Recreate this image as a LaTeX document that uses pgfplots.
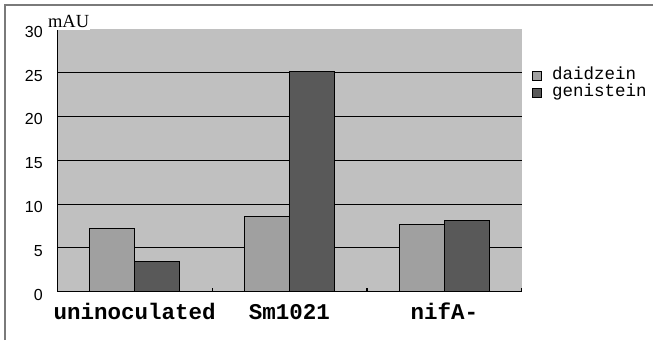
\documentclass[border=0pt]{standalone}
\usepackage{fontspec}
\setmainfont{Liberation Sans}
\newfontfamily\monofont{Liberation Mono}
\newfontfamily\seriffont{Liberation Serif}
\usepackage{pgfplots}
\pgfplotsset{compat=1.18}

\definecolor{plotbg}{HTML}{C0C0C0}
\definecolor{daidc}{HTML}{A0A0A0}
\definecolor{genc}{HTML}{595959}
\definecolor{framec}{HTML}{7A7A7A}

\pgfplotstableread{
x  daidzein genistein
0  7.2      3.4
1  8.6      25.1
2  7.7      8.1
}\mautable

\begin{document}
\begin{tikzpicture}[x=1pt,y=1pt]
\begin{axis}[
  scale only axis,
  width=464.4pt, height=263pt,
  at={(57.3pt,48.3pt)}, anchor=south west,
  xmin=-0.5, xmax=2.5, ymin=0, ymax=30,
  axis x line*=bottom, axis y line*=left,
  axis line style={black, line width=1.3pt},
  axis background/.style={fill=plotbg},
  xtick={0,1,2},
  xticklabels={uninoculated, Sm1021, nifA-},
  x tick label style={font=\monofont\bfseries\fontsize{22.5}{24}\selectfont, anchor=base, yshift=-27.5pt},
  major tick length=0pt,
  extra x ticks={0.5,1.5,2.5},
  extra x tick labels={},
  extra x tick style={major tick length=4pt, tick align=inside, tick style={black, line width=1.2pt}},
  ytick={0,5,...,25},
  extra y ticks={30},
  extra y tick style={grid=none},
  ymajorgrids,
  grid style={black, line width=1pt},
  /pgf/number format/assume math mode=true,
  y tick label style={font=\fontsize{16}{16}\selectfont, xshift=-11pt, yshift=-3pt},
  ybar, bar width=0.29,
  legend style={at={(1.022,0.855)}, anchor=north west, draw=none, fill=none,
    font=\monofont\fontsize{17.5}{17.6}\selectfont, row sep=0pt, inner sep=0pt,
    nodes={inner xsep=1pt, inner ysep=0pt, text height=12pt, text depth=5.6pt},
    /tikz/every odd column/.append style={column sep=9pt},
    legend cell align=left},
  legend image code/.code={\draw[#1, line width=0.9pt] (0pt,-4.5pt) rectangle (9pt,4.5pt);},
  clip=false,
]
\addplot[bar shift=-0.145, fill=daidc, draw=black, line width=1.2pt] table[x=x, y=daidzein] {\mautable};
\addlegendentry{daidzein}
\addplot[bar shift=0.145, fill=genc, draw=black, line width=1.2pt] table[x=x, y=genistein] {\mautable};
\addlegendentry{genistein}
\node[anchor=base west, font=\seriffont\fontsize{18.5}{18}\selectfont, fill=white, inner sep=1pt, text depth=1.8pt]
  at (axis description cs:0,1) [xshift=-10.5pt, yshift=1.5pt] {mAU};
\end{axis}
% outer frame
\draw[framec, line width=1.6pt] (5pt,0pt) -- (5pt,335pt) -- (653pt,335pt);
\pgfresetboundingbox
\useasboundingbox (0pt,0pt) rectangle (653pt,340pt);
\end{tikzpicture}
\end{document}
